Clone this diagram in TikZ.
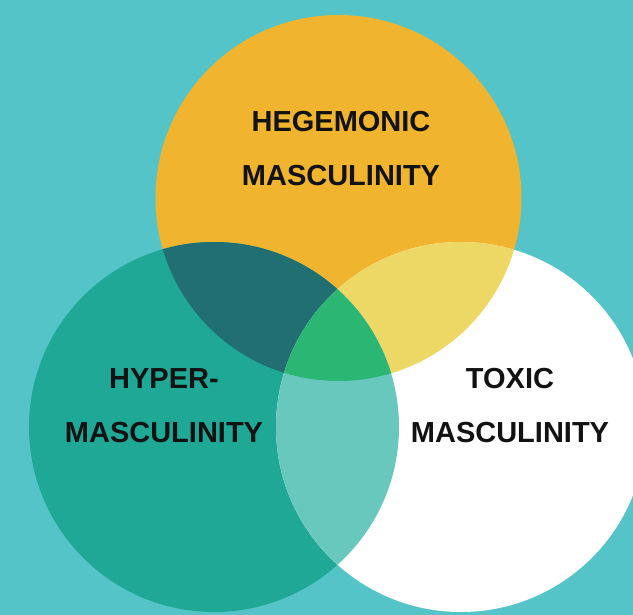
\documentclass[tikz,border=0pt]{standalone}
\usepackage{fontspec}
\setmainfont{Liberation Sans}
\usepackage{xcolor}
\usepackage{tikz}
\usetikzlibrary{positioning}

\definecolor{bgteal}{HTML}{55C4C8}
\definecolor{hegcol}{HTML}{F0B42E}
\definecolor{hypcol}{HTML}{1EA895}
\definecolor{toxcol}{HTML}{FFFFFF}
\definecolor{hegdark}{HTML}{216E73}
\definecolor{heglight}{HTML}{EDD866}
\definecolor{hyptox}{HTML}{69C8BE}
\definecolor{allcol}{HTML}{2BB673}

\tikzset{
    label/.style={align=center, text=black!93, font=\fontsize{29}{54}\selectfont\bfseries}
}

\begin{document}
\begin{tikzpicture}[x=1pt, y=-1pt]
        \fill[bgteal] (0,0) rectangle (633,615);
        \useasboundingbox (0,0) rectangle (633,615);

        \coordinate (H) at (338.5,198);
        \coordinate (Y) at (214,427);
        \coordinate (T) at (461,427);

        % the three circles
        \fill[hegcol] (H) circle (183pt);
        \fill[hypcol] (Y) circle (185pt);
        \fill[toxcol] (T) circle (185pt);

        % overlaps
        \begin{scope}
            \clip (H) circle (183pt);
            \fill[hegdark] (Y) circle (185pt);
            \fill[heglight] (T) circle (185pt);
        \end{scope}
        \begin{scope}
            \clip (Y) circle (185pt);
            \fill[hyptox] (T) circle (185pt);
        \end{scope}
        \begin{scope}
            \clip (H) circle (183pt);
            \clip (Y) circle (185pt);
            \fill[allcol] (T) circle (185pt);
        \end{scope}

        \node[label] (heg) at (341,148.5) {HEGEMONIC\\MASCULINITY};
        \node[label] (hyp) at (164,405.5) {HYPER-\\MASCULINITY};
        \node[label] (tox) at (510,405.5) {TOXIC\\MASCULINITY};
    \end{tikzpicture}
\end{document}
